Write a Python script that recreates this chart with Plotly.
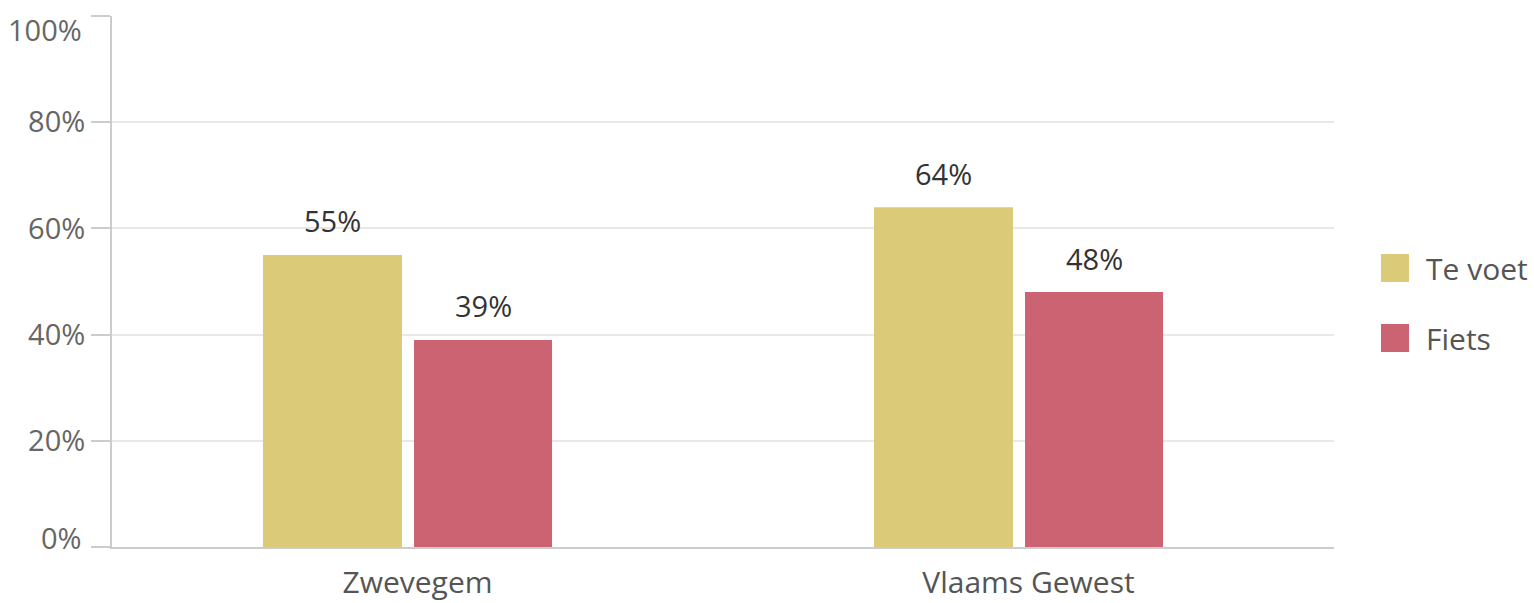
import plotly.graph_objects as go

# ---------------- data ----------------
categories = ["Zwevegem", "Vlaams Gewest"]
series_names = ["Te voet", "Fiets"]
te_voet = [55, 64]
fiets = [39, 48]
y_ticks = [0, 20, 40, 60, 80, 100]
y_tick_labels = ["0%", "20%", "40%", "60%", "80%", "100%"]

# ---------------- style ----------------
COLORS = ["#DBCB78", "#CB6373"]
W, H = 1534, 603
L, R, T, B = 112, 200, 16, 56
PLOT_W = W - L - R
PLOT_H = H - T - B
BAR_OFFSETS = [-0.2529, -0.0057]
BAR_WIDTHS = [0.2275, 0.2259]
FONT = "Open Sans"
FS_TICK = 29
FS_VAL = 29
FS_CAT = 30
FS_LEG = 30

fig = go.Figure()
series_values = [te_voet, fiets]
for name, vals, col, off, wd in zip(series_names, series_values, COLORS, BAR_OFFSETS, BAR_WIDTHS):
    fig.add_trace(go.Bar(
        x=categories, y=vals, name=name,
        marker=dict(color=col, line=dict(width=0)),
        offset=off, width=wd, showlegend=False,
        hovertemplate="%{x}: %{y}%<extra>" + name + "</extra>",
    ))

annotations = []
# value labels above bars
for vals, off, wd in zip(series_values, BAR_OFFSETS, BAR_WIDTHS):
    for i, v in enumerate(vals):
        annotations.append(dict(
            x=i + off + wd / 2, y=v, xref="x", yref="y",
            text=f"{v}%", showarrow=False, yanchor="middle", yshift=34,
            font=dict(family=FONT, size=FS_VAL, color="#333333"),
        ))

# edge y tick labels (nudged inward like the original)
edge_shift = {0: 10, 100: -13}
for val, lab in zip(y_ticks, y_tick_labels):
    if val in edge_shift:
        annotations.append(dict(
            x=0, xref="paper", y=val, yref="y", text=lab, showarrow=False,
            xanchor="right", yanchor="middle", xshift=-28, yshift=edge_shift[val],
            font=dict(family=FONT, size=FS_TICK, color="#666666"),
        ))
tick_text = ["" if v in edge_shift else lab for v, lab in zip(y_ticks, y_tick_labels)]

# custom legend with large squares
shapes = []
legend_rows = [(254, 282), (324, 352)]
for (top, bot), name, col in zip(legend_rows, series_names, COLORS):
    shapes.append(dict(
        type="rect", xref="paper", yref="paper",
        x0=(1381 - L) / PLOT_W, x1=(1409 - L) / PLOT_W,
        y0=(H - B - bot) / PLOT_H, y1=(H - B - top) / PLOT_H,
        fillcolor=col, line=dict(width=0),
    ))
    annotations.append(dict(
        x=(1424 - L) / PLOT_W, xref="paper", y=(H - B - (top + bot) / 2) / PLOT_H, yref="paper",
        text=name, showarrow=False, xanchor="left", yanchor="middle",
        font=dict(family=FONT, size=FS_LEG, color="#555555"),
    ))

fig.update_layout(
    width=W, height=H,
    margin=dict(l=L, r=R, t=T, b=B, pad=0, autoexpand=False),
    paper_bgcolor="white", plot_bgcolor="white",
    font=dict(family=FONT, size=FS_TICK, color="#555555"),
    showlegend=False,
    annotations=annotations,
    shapes=shapes,
    xaxis=dict(
        type="category", range=[-0.5, 1.5], showgrid=False,
        showline=True, linecolor="#CCCCCC", linewidth=2,
        ticks="", tickfont=dict(family=FONT, size=FS_CAT, color="#555555"),
        ticklabelstandoff=8, automargin=False,
        fixedrange=True,
    ),
    yaxis=dict(
        range=[0, 100], tickvals=y_ticks, ticktext=tick_text,
        showgrid=True, gridcolor="#E8E8E8", gridwidth=1.5,
        zeroline=False, showline=True, linecolor="#CCCCCC", linewidth=2,
        ticks="outside", ticklen=19, tickwidth=2, tickcolor="#CCCCCC",
        tickfont=dict(family=FONT, size=FS_TICK, color="#666666"),
        automargin=False,
        fixedrange=True,
    ),
)

fig.write_html(
    "out.html",
    config={"displayModeBar": False},
    post_script="document.body.style.margin='0';document.body.style.overflow='hidden';",
)
